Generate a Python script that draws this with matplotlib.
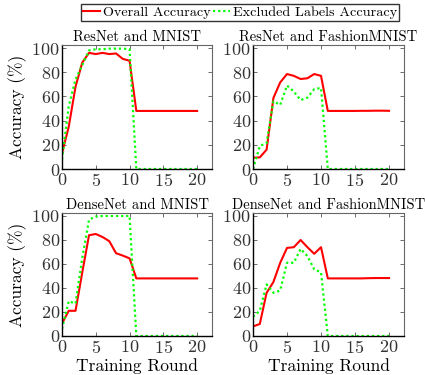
import matplotlib
matplotlib.use("Agg")
import matplotlib.pyplot as plt

plt.rcParams['font.family'] = ['cmr10', 'DejaVu Serif']
plt.rcParams['mathtext.fontset'] = 'cm'
plt.rcParams['axes.formatter.use_mathtext'] = True

rounds = list(range(21))

titles = ["ResNet and MNIST", "ResNet and FashionMNIST",
          "DenseNet and MNIST", "DenseNet and FashionMNIST"]

overall = [
    [13, 35, 68, 88, 96, 95, 96, 95, 95.5, 91, 89.5] + [48] * 10,
    [9.4, 9.6, 16, 58.7, 71.6, 78.5, 77, 74.4, 75, 78.5, 77, 48, 48, 48, 48, 48, 48.1, 48.1, 48.2, 48.2, 48.1],
    [10.4, 21, 21, 53, 84, 85, 82.5, 79, 69, 67, 64.7] + [48] * 10,
    [8, 10, 36, 45, 61, 73.4, 74, 80, 74, 68.5, 74, 48, 48, 48, 48, 48, 48, 48.2, 48.3, 48.3, 48.3],
]

excluded = [
    [8, 52, 74, 86, 98, 99, 99, 99.5, 99.5, 99.5, 99] + [0] * 10,
    [0, 19, 21.5, 56, 53, 69, 64, 57, 59, 66, 67] + [0] * 10,
    [6, 29, 27, 65, 97, 99.5, 100, 100, 100, 100, 100] + [0] * 10,
    [16, 21, 43, 36, 38, 61, 61, 72.6, 66.6, 55.6, 53] + [0] * 10,
]

fig = plt.figure(figsize=(4.25, 3.75), dpi=100)
W, H = 425, 375
boxes = [(62, 45, 150, 124), (253, 45, 151, 124),
         (62, 213, 150, 123), (253, 213, 151, 123)]

for i, (l, t, w, h) in enumerate(boxes):
    ax = fig.add_axes([l / W, 1 - (t + h) / H, w / W, h / H])
    ln1, = ax.plot(rounds, overall[i], color='red', lw=1.5, label='Overall Accuracy')
    ln2, = ax.plot(rounds, excluded[i], color='lime', lw=1.6, ls=(0, (1, 1.3)),
                   label='Excluded Labels Accuracy')
    ax.set_xlim(0, 22.2)
    ax.set_ylim(0, 102.5)
    ax.set_xticks([0, 5, 10, 15, 20])
    ax.set_yticks([0, 20, 40, 60, 80, 100])
    ax.tick_params(direction='in', top=True, right=True, labelsize=13,
                   length=3, width=0.6, colors='#555555', labelcolor='#333333', pad=1.5)
    ax.tick_params(axis='x', pad=2.5)
    for s in ['top', 'right']:
        ax.spines[s].set_color('#666666')
        ax.spines[s].set_linewidth(0.8)
    for s in ['left', 'bottom']:
        ax.spines[s].set_color('black')
        ax.spines[s].set_linewidth(1.0)
    ax.set_title(titles[i], fontsize=10.5, pad=3)
    if i % 2 == 0:
        ax.set_ylabel('Accuracy (%)', fontsize=12.5, labelpad=3)
    if i >= 2:
        ax.set_xlabel('Training Round', fontsize=12.5, labelpad=1)

fig.legend([ln1, ln2], ['Overall Accuracy', 'Excluded Labels Accuracy'],
           loc='center', bbox_to_anchor=(240 / W, 1 - 12.5 / H), ncol=2,
           fontsize=10.2, frameon=True, fancybox=False, edgecolor='black',
           handlelength=1.2, handletextpad=0.2, columnspacing=0.2,
           borderpad=0.15, borderaxespad=0)

fig.savefig('out.png', dpi=100)
